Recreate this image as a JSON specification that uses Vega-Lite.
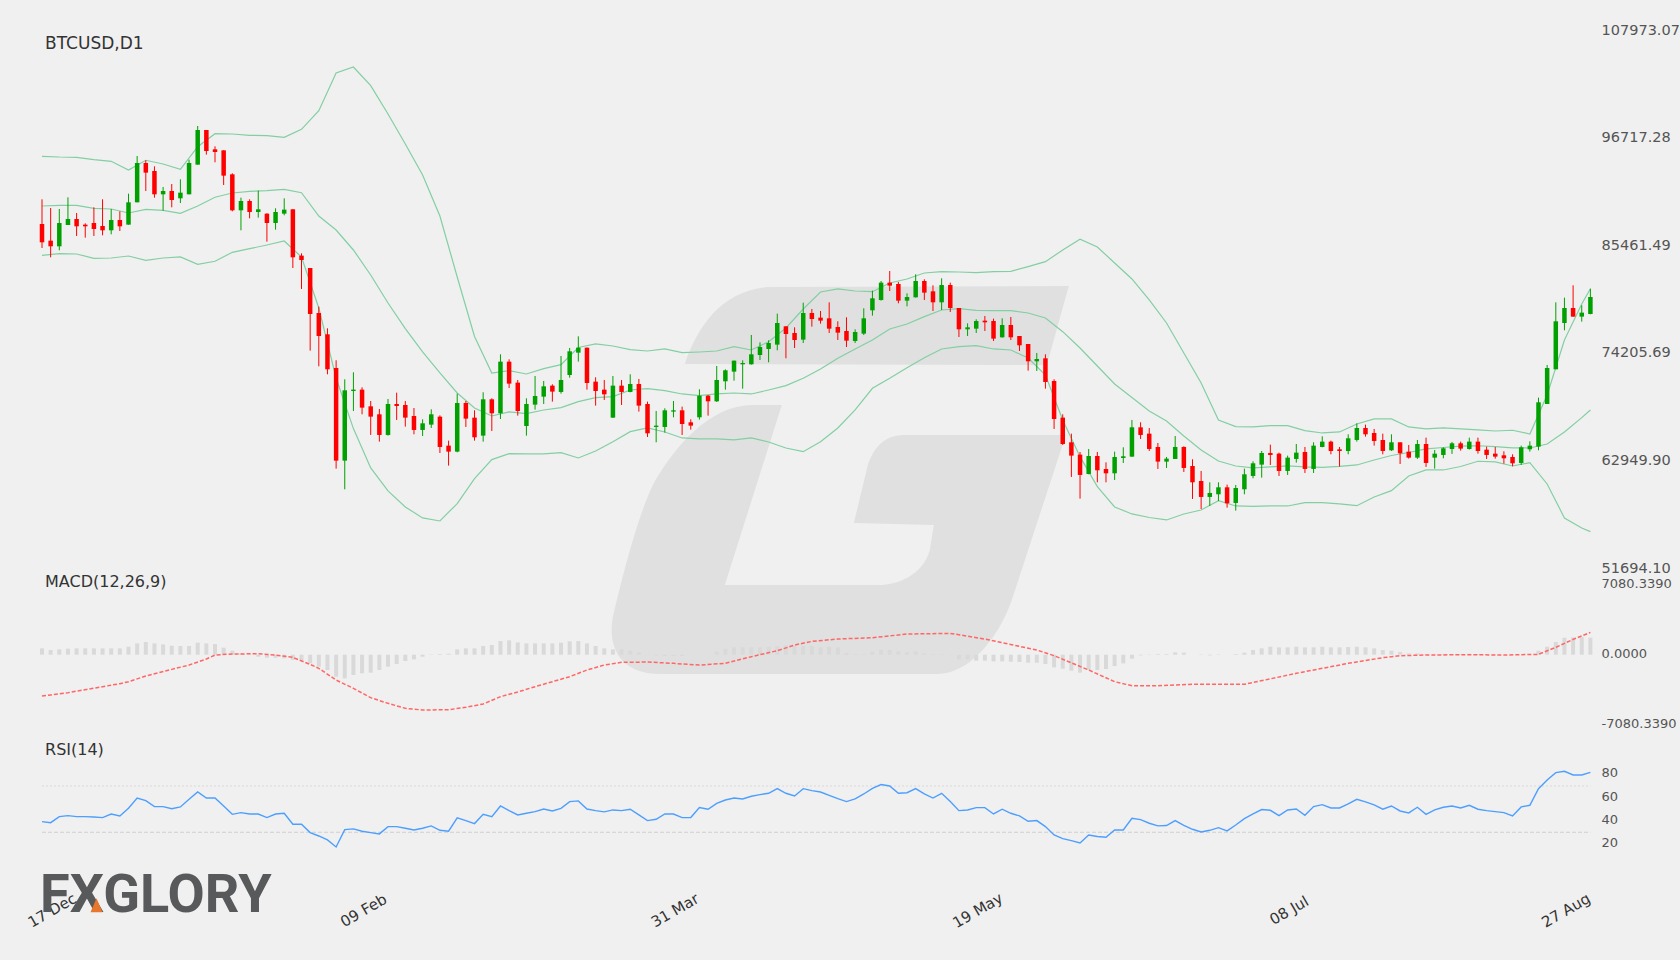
{
  "$schema": "https://vega.github.io/schema/vega-lite/v6.json",
  "width": 1680,
  "height": 960,
  "autosize": "none",
  "padding": 0,
  "background": "#f0f0f0",
  "config": {"view": {"stroke": null}, "font": "DejaVu Sans"},
  "datasets": {
    "candles": [
      {"i":0,"o":87680,"h":90261,"l":85170,"c":85763,"hist":640,"rsi":39.2},
      {"i":1,"o":85937,"h":89354,"l":84194,"c":85344,"hist":472,"rsi":38.3},
      {"i":2,"o":85344,"h":89250,"l":84926,"c":87785,"hist":539,"rsi":43.5},
      {"i":3,"o":87576,"h":90470,"l":87576,"c":88204,"hist":607,"rsi":44.4},
      {"i":4,"o":88204,"h":88831,"l":86425,"c":87436,"hist":640,"rsi":43.5},
      {"i":5,"o":87611,"h":87750,"l":86251,"c":87436,"hist":640,"rsi":43.5},
      {"i":6,"o":87785,"h":89424,"l":86425,"c":87157,"hist":640,"rsi":43.2},
      {"i":7,"o":87471,"h":90261,"l":86495,"c":87018,"hist":640,"rsi":42.7},
      {"i":8,"o":87018,"h":89250,"l":86600,"c":88099,"hist":640,"rsi":45.8},
      {"i":9,"o":88099,"h":89005,"l":86948,"c":87436,"hist":640,"rsi":44.1},
      {"i":10,"o":87611,"h":90853,"l":87611,"c":89947,"hist":809,"rsi":50.7},
      {"i":11,"o":89947,"h":94793,"l":89947,"c":94061,"hist":1146,"rsi":59.6},
      {"i":12,"o":94061,"h":94340,"l":91132,"c":93050,"hist":1281,"rsi":57.3},
      {"i":13,"o":93224,"h":93712,"l":90435,"c":90784,"hist":1146,"rsi":52.2},
      {"i":14,"o":90784,"h":91551,"l":89075,"c":91132,"hist":1045,"rsi":52.2},
      {"i":15,"o":91132,"h":91865,"l":89424,"c":90191,"hist":910,"rsi":50.4},
      {"i":16,"o":90365,"h":92353,"l":89877,"c":90958,"hist":876,"rsi":51.9},
      {"i":17,"o":90784,"h":94410,"l":90784,"c":94061,"hist":876,"rsi":58.5},
      {"i":18,"o":93887,"h":97931,"l":93887,"c":97513,"hist":1213,"rsi":64.8},
      {"i":19,"o":97513,"h":97513,"l":94933,"c":95316,"hist":1146,"rsi":59.6},
      {"i":20,"o":95491,"h":95805,"l":94131,"c":95212,"hist":1078,"rsi":59.6},
      {"i":21,"o":95386,"h":95386,"l":91760,"c":92736,"hist":708,"rsi":52.7},
      {"i":22,"o":92876,"h":92980,"l":89005,"c":89110,"hist":404,"rsi":45.5},
      {"i":23,"o":89110,"h":90435,"l":87018,"c":90086,"hist":135,"rsi":47},
      {"i":24,"o":90086,"h":90261,"l":88273,"c":88936,"hist":-34,"rsi":45.8},
      {"i":25,"o":88936,"h":91167,"l":88343,"c":89215,"hist":-202,"rsi":45.8},
      {"i":26,"o":88761,"h":88796,"l":85833,"c":87785,"hist":-303,"rsi":42.7},
      {"i":27,"o":87785,"h":89319,"l":87088,"c":88936,"hist":-303,"rsi":45.8},
      {"i":28,"o":88761,"h":90365,"l":88587,"c":89180,"hist":-371,"rsi":46.4},
      {"i":29,"o":89215,"h":89250,"l":83078,"c":84194,"hist":-539,"rsi":36.9},
      {"i":30,"o":84368,"h":84612,"l":80881,"c":83915,"hist":-640,"rsi":36.9},
      {"i":31,"o":83078,"h":83078,"l":74431,"c":78267,"hist":-876,"rsi":29.7},
      {"i":32,"o":78371,"h":79034,"l":72792,"c":75965,"hist":-1213,"rsi":26.8},
      {"i":33,"o":76140,"h":76767,"l":71956,"c":72479,"hist":-1550,"rsi":23.4},
      {"i":34,"o":72618,"h":73420,"l":62088,"c":62925,"hist":-2224,"rsi":17.3},
      {"i":35,"o":62925,"h":71433,"l":59926,"c":70282,"hist":-2393,"rsi":32.3},
      {"i":36,"o":70212,"h":72165,"l":68120,"c":70352,"hist":-2056,"rsi":32.9},
      {"i":37,"o":70352,"h":70596,"l":67772,"c":68469,"hist":-1887,"rsi":30.9},
      {"i":38,"o":68608,"h":69166,"l":65610,"c":67527,"hist":-1820,"rsi":29.7},
      {"i":39,"o":67772,"h":68329,"l":64912,"c":65610,"hist":-1550,"rsi":28.6},
      {"i":40,"o":65610,"h":69375,"l":65540,"c":68853,"hist":-1213,"rsi":34.9},
      {"i":41,"o":68853,"h":70038,"l":67179,"c":68643,"hist":-944,"rsi":34.9},
      {"i":42,"o":68748,"h":69166,"l":66481,"c":67423,"hist":-640,"rsi":33.5},
      {"i":43,"o":67597,"h":68434,"l":65680,"c":66133,"hist":-472,"rsi":32},
      {"i":44,"o":66133,"h":67249,"l":65505,"c":66830,"hist":-202,"rsi":33.5},
      {"i":45,"o":66691,"h":68295,"l":66342,"c":67772,"hist":34,"rsi":35.5},
      {"i":46,"o":67527,"h":67667,"l":63727,"c":64355,"hist":67,"rsi":31.7},
      {"i":47,"o":64494,"h":65017,"l":62402,"c":63866,"hist":101,"rsi":30.9},
      {"i":48,"o":63866,"h":69933,"l":63797,"c":68957,"hist":539,"rsi":42.4},
      {"i":49,"o":68957,"h":69166,"l":66447,"c":67318,"hist":640,"rsi":40.1},
      {"i":50,"o":67423,"h":68190,"l":65017,"c":65366,"hist":640,"rsi":37.5},
      {"i":51,"o":65540,"h":70073,"l":64912,"c":69341,"hist":876,"rsi":45.5},
      {"i":52,"o":69341,"h":69445,"l":66028,"c":67876,"hist":977,"rsi":43.5},
      {"i":53,"o":67876,"h":74048,"l":67283,"c":73281,"hist":1382,"rsi":52.7},
      {"i":54,"o":73281,"h":73525,"l":70526,"c":70979,"hist":1449,"rsi":48.7},
      {"i":55,"o":71084,"h":71363,"l":67632,"c":68120,"hist":1247,"rsi":45},
      {"i":56,"o":66551,"h":69445,"l":65540,"c":68853,"hist":1146,"rsi":46.4},
      {"i":57,"o":68783,"h":71781,"l":68260,"c":69689,"hist":1146,"rsi":47.8},
      {"i":58,"o":69619,"h":71258,"l":68853,"c":70700,"hist":1146,"rsi":50.1},
      {"i":59,"o":70770,"h":70910,"l":69096,"c":70143,"hist":1146,"rsi":48.4},
      {"i":60,"o":70108,"h":73873,"l":69933,"c":71363,"hist":1213,"rsi":50.7},
      {"i":61,"o":71886,"h":74710,"l":71607,"c":74361,"hist":1348,"rsi":56.5},
      {"i":62,"o":74222,"h":75930,"l":73281,"c":74745,"hist":1382,"rsi":57.1},
      {"i":63,"o":74745,"h":74745,"l":70352,"c":71049,"hist":1146,"rsi":50.1},
      {"i":64,"o":71189,"h":71642,"l":68678,"c":70212,"hist":876,"rsi":48.7},
      {"i":65,"o":70352,"h":71363,"l":69271,"c":69864,"hist":640,"rsi":47.6},
      {"i":66,"o":67423,"h":71781,"l":67388,"c":70770,"hist":539,"rsi":49.3},
      {"i":67,"o":70770,"h":71363,"l":68748,"c":70108,"hist":539,"rsi":48.7},
      {"i":68,"o":70108,"h":71956,"l":70073,"c":70945,"hist":404,"rsi":49.9},
      {"i":69,"o":70945,"h":71468,"l":68051,"c":68678,"hist":236,"rsi":45},
      {"i":70,"o":68852,"h":69097,"l":65401,"c":65784,"hist":-34,"rsi":40.1},
      {"i":71,"o":66447,"h":68120,"l":64843,"c":66586,"hist":-67,"rsi":41.2},
      {"i":72,"o":66447,"h":68399,"l":65854,"c":68190,"hist":-135,"rsi":45.8},
      {"i":73,"o":68051,"h":69166,"l":67458,"c":68190,"hist":-135,"rsi":45.8},
      {"i":74,"o":68190,"h":68574,"l":65610,"c":66760,"hist":-135,"rsi":42.7},
      {"i":75,"o":66935,"h":67249,"l":66168,"c":66586,"hist":-34,"rsi":42.7},
      {"i":76,"o":67458,"h":70387,"l":67214,"c":69724,"hist":-34,"rsi":51.3},
      {"i":77,"o":69724,"h":69794,"l":67632,"c":69131,"hist":0,"rsi":49.9},
      {"i":78,"o":69131,"h":72827,"l":69062,"c":71363,"hist":303,"rsi":55},
      {"i":79,"o":71223,"h":72479,"l":70352,"c":72374,"hist":607,"rsi":57.9},
      {"i":80,"o":72235,"h":73385,"l":71293,"c":73385,"hist":741,"rsi":59.6},
      {"i":81,"o":73002,"h":73420,"l":70456,"c":73141,"hist":741,"rsi":58.8},
      {"i":82,"o":73002,"h":76070,"l":72967,"c":74048,"hist":741,"rsi":61.1},
      {"i":83,"o":73978,"h":75303,"l":73455,"c":74815,"hist":741,"rsi":62.5},
      {"i":84,"o":74606,"h":75512,"l":73211,"c":75233,"hist":809,"rsi":63.7},
      {"i":85,"o":75059,"h":78301,"l":74466,"c":77325,"hist":876,"rsi":67.7},
      {"i":86,"o":76977,"h":76977,"l":73629,"c":76175,"hist":977,"rsi":63.7},
      {"i":87,"o":76279,"h":76872,"l":74710,"c":75547,"hist":876,"rsi":61.4},
      {"i":88,"o":75582,"h":79452,"l":75233,"c":78371,"hist":876,"rsi":67.7},
      {"i":89,"o":78371,"h":78790,"l":76942,"c":77744,"hist":876,"rsi":66},
      {"i":90,"o":77883,"h":78580,"l":77255,"c":77569,"hist":741,"rsi":64.8},
      {"i":91,"o":77813,"h":79487,"l":76279,"c":76732,"hist":809,"rsi":61.9},
      {"i":92,"o":76907,"h":77499,"l":75547,"c":76314,"hist":741,"rsi":59.1},
      {"i":93,"o":76488,"h":77918,"l":74815,"c":75477,"hist":169,"rsi":56.5},
      {"i":94,"o":75442,"h":76663,"l":75233,"c":76384,"hist":67,"rsi":58.8},
      {"i":95,"o":76209,"h":78859,"l":76070,"c":77813,"hist":67,"rsi":63.1},
      {"i":96,"o":78650,"h":80707,"l":78092,"c":79905,"hist":303,"rsi":68},
      {"i":97,"o":79731,"h":81718,"l":79661,"c":81544,"hist":472,"rsi":71.2},
      {"i":98,"o":81544,"h":82764,"l":80672,"c":81230,"hist":472,"rsi":70},
      {"i":99,"o":81405,"h":81614,"l":79382,"c":79661,"hist":337,"rsi":63.7},
      {"i":100,"o":79661,"h":80428,"l":79068,"c":80045,"hist":236,"rsi":64.2},
      {"i":101,"o":80010,"h":82416,"l":79975,"c":81718,"hist":337,"rsi":67.7},
      {"i":102,"o":81718,"h":81893,"l":79731,"c":80498,"hist":135,"rsi":63.1},
      {"i":103,"o":80637,"h":81265,"l":78580,"c":79487,"hist":67,"rsi":59.6},
      {"i":104,"o":79487,"h":81997,"l":78685,"c":81300,"hist":67,"rsi":63.7},
      {"i":105,"o":81300,"h":81544,"l":78476,"c":78894,"hist":-34,"rsi":56.5},
      {"i":106,"o":78894,"h":78894,"l":75861,"c":76663,"hist":-472,"rsi":48.7},
      {"i":107,"o":76663,"h":77290,"l":75965,"c":76872,"hist":-472,"rsi":49.3},
      {"i":108,"o":76732,"h":77709,"l":76279,"c":77534,"hist":-607,"rsi":51.3},
      {"i":109,"o":77569,"h":78057,"l":76488,"c":77395,"hist":-607,"rsi":51.3},
      {"i":110,"o":77534,"h":77778,"l":75442,"c":75686,"hist":-674,"rsi":45.8},
      {"i":111,"o":75826,"h":77813,"l":75791,"c":77116,"hist":-674,"rsi":49.9},
      {"i":112,"o":77116,"h":77953,"l":75547,"c":75826,"hist":-708,"rsi":46.4},
      {"i":113,"o":75965,"h":75965,"l":74396,"c":74989,"hist":-741,"rsi":44.1},
      {"i":114,"o":75129,"h":75129,"l":72339,"c":73315,"hist":-809,"rsi":39.5},
      {"i":115,"o":73315,"h":74187,"l":72304,"c":73560,"hist":-809,"rsi":40.1},
      {"i":116,"o":73629,"h":74048,"l":70456,"c":71154,"hist":-944,"rsi":34.9},
      {"i":117,"o":71258,"h":71433,"l":66237,"c":67283,"hist":-1281,"rsi":27.7},
      {"i":118,"o":67423,"h":67772,"l":64564,"c":64668,"hist":-1415,"rsi":24.5},
      {"i":119,"o":64843,"h":65749,"l":61217,"c":63448,"hist":-1618,"rsi":22.8},
      {"i":120,"o":63553,"h":63832,"l":58950,"c":61426,"hist":-1820,"rsi":20.8},
      {"i":121,"o":61530,"h":64145,"l":61495,"c":63413,"hist":-1550,"rsi":27.7},
      {"i":122,"o":63413,"h":63832,"l":60659,"c":61914,"hist":-1550,"rsi":26.3},
      {"i":123,"o":62053,"h":62751,"l":60659,"c":61600,"hist":-1449,"rsi":25.7},
      {"i":124,"o":61600,"h":63867,"l":60903,"c":63309,"hist":-1146,"rsi":32},
      {"i":125,"o":63204,"h":64320,"l":62681,"c":63378,"hist":-876,"rsi":32},
      {"i":126,"o":63344,"h":67179,"l":63309,"c":66412,"hist":-404,"rsi":42.1},
      {"i":127,"o":66412,"h":66935,"l":65192,"c":65610,"hist":-67,"rsi":40.9},
      {"i":128,"o":65749,"h":66342,"l":63936,"c":64146,"hist":-34,"rsi":37.8},
      {"i":129,"o":64355,"h":64773,"l":62054,"c":62821,"hist":67,"rsi":35.5},
      {"i":130,"o":62821,"h":63309,"l":62158,"c":63134,"hist":67,"rsi":35.8},
      {"i":131,"o":63100,"h":65505,"l":63100,"c":64355,"hist":236,"rsi":40.1},
      {"i":132,"o":64355,"h":64424,"l":61740,"c":62158,"hist":202,"rsi":36},
      {"i":133,"o":62367,"h":63065,"l":58916,"c":60659,"hist":0,"rsi":32.6},
      {"i":134,"o":60798,"h":61844,"l":57869,"c":59125,"hist":-34,"rsi":30.3},
      {"i":135,"o":59125,"h":60659,"l":58183,"c":59543,"hist":-67,"rsi":31.7},
      {"i":136,"o":59404,"h":60659,"l":58706,"c":60136,"hist":-34,"rsi":34},
      {"i":137,"o":60136,"h":60415,"l":58009,"c":58462,"hist":0,"rsi":31.2},
      {"i":138,"o":58497,"h":60380,"l":57695,"c":60066,"hist":67,"rsi":36.3},
      {"i":139,"o":59927,"h":62088,"l":59404,"c":61496,"hist":202,"rsi":41.8},
      {"i":140,"o":61321,"h":62856,"l":61077,"c":62646,"hist":472,"rsi":45.8},
      {"i":141,"o":62507,"h":63936,"l":61147,"c":63727,"hist":640,"rsi":49.6},
      {"i":142,"o":63727,"h":64599,"l":62472,"c":63518,"hist":809,"rsi":49},
      {"i":143,"o":63657,"h":63762,"l":61321,"c":61844,"hist":741,"rsi":44.4},
      {"i":144,"o":61844,"h":63448,"l":61426,"c":63239,"hist":741,"rsi":49.3},
      {"i":145,"o":63100,"h":64669,"l":62716,"c":63762,"hist":809,"rsi":50.1},
      {"i":146,"o":63832,"h":64355,"l":61635,"c":62054,"hist":741,"rsi":44.7},
      {"i":147,"o":62054,"h":64843,"l":61635,"c":64494,"hist":741,"rsi":52.2},
      {"i":148,"o":64355,"h":65471,"l":64320,"c":64913,"hist":809,"rsi":53.9},
      {"i":149,"o":64913,"h":65017,"l":63588,"c":63936,"hist":741,"rsi":51},
      {"i":150,"o":64111,"h":64355,"l":62298,"c":63936,"hist":741,"rsi":51},
      {"i":151,"o":63936,"h":65680,"l":63588,"c":65261,"hist":775,"rsi":54.5},
      {"i":152,"o":65087,"h":66830,"l":64913,"c":66342,"hist":809,"rsi":58.5},
      {"i":153,"o":66342,"h":66691,"l":65436,"c":65680,"hist":741,"rsi":56.2},
      {"i":154,"o":65819,"h":66238,"l":64494,"c":64982,"hist":640,"rsi":53.6},
      {"i":155,"o":65087,"h":65749,"l":63588,"c":63936,"hist":472,"rsi":49.9},
      {"i":156,"o":64006,"h":65680,"l":63936,"c":64843,"hist":404,"rsi":52.7},
      {"i":157,"o":64843,"h":64843,"l":62576,"c":63692,"hist":270,"rsi":48.4},
      {"i":158,"o":63866,"h":64564,"l":63134,"c":63239,"hist":135,"rsi":46.7},
      {"i":159,"o":63239,"h":65087,"l":63099,"c":64668,"hist":135,"rsi":51.6},
      {"i":160,"o":64668,"h":65331,"l":62263,"c":62681,"hist":67,"rsi":45.5},
      {"i":161,"o":63239,"h":64041,"l":62088,"c":63657,"hist":34,"rsi":49.3},
      {"i":162,"o":63518,"h":64320,"l":63169,"c":64215,"hist":67,"rsi":51.6},
      {"i":163,"o":64145,"h":64878,"l":63623,"c":64738,"hist":67,"rsi":52.7},
      {"i":164,"o":64738,"h":64913,"l":63971,"c":64180,"hist":67,"rsi":51},
      {"i":165,"o":64145,"h":65331,"l":64076,"c":64913,"hist":101,"rsi":53.3},
      {"i":166,"o":64913,"h":65331,"l":63657,"c":63936,"hist":67,"rsi":49.9},
      {"i":167,"o":64076,"h":64389,"l":63099,"c":63518,"hist":34,"rsi":48.7},
      {"i":168,"o":63657,"h":64355,"l":63134,"c":63343,"hist":34,"rsi":47.8},
      {"i":169,"o":63483,"h":63901,"l":62611,"c":63169,"hist":0,"rsi":47},
      {"i":170,"o":63309,"h":63588,"l":62332,"c":62646,"hist":0,"rsi":44.1},
      {"i":171,"o":62681,"h":64494,"l":62472,"c":64320,"hist":0,"rsi":51.9},
      {"i":172,"o":64111,"h":64947,"l":63866,"c":64494,"hist":0,"rsi":53.3},
      {"i":173,"o":64389,"h":69515,"l":64006,"c":69027,"hist":404,"rsi":67.7},
      {"i":174,"o":68852,"h":72932,"l":68852,"c":72618,"hist":809,"rsi":75.2},
      {"i":175,"o":72479,"h":79487,"l":72479,"c":77500,"hist":1281,"rsi":81.5},
      {"i":176,"o":77325,"h":79975,"l":76558,"c":78894,"hist":1719,"rsi":82.7},
      {"i":177,"o":78894,"h":81265,"l":77988,"c":77988,"hist":1752,"rsi":79.5},
      {"i":178,"o":77988,"h":79173,"l":77465,"c":78406,"hist":1786,"rsi":79.5},
      {"i":179,"o":78267,"h":80916,"l":78232,"c":80045,"hist":1719,"rsi":81.8}
    ],
    "bands": [
      {"i":0,"upper":94762,"mid":89563,"lower":84407},{"i":2,"upper":94689,"mid":89637,"lower":84574},
      {"i":4,"upper":94657,"mid":89637,"lower":84543},{"i":6,"upper":94406,"mid":89323,"lower":84093},
      {"i":8,"upper":94239,"mid":89250,"lower":84124},{"i":10,"upper":93329,"mid":88831,"lower":84333},
      {"i":12,"upper":94344,"mid":89218,"lower":83884},{"i":14,"upper":93957,"mid":89114,"lower":84124},
      {"i":16,"upper":93402,"mid":88800,"lower":84229},{"i":18,"upper":95766,"mid":89563,"lower":83465},
      {"i":20,"upper":97126,"mid":90473,"lower":83779},{"i":22,"upper":97095,"mid":90923,"lower":84720},
      {"i":24,"upper":96959,"mid":91101,"lower":85097},{"i":26,"upper":96917,"mid":91164,"lower":85484},
      {"i":28,"upper":96749,"mid":91310,"lower":85902},{"i":30,"upper":97586,"mid":90955,"lower":84229},
      {"i":32,"upper":99532,"mid":88517,"lower":78894},{"i":34,"upper":103486,"mid":87053,"lower":71572},
      {"i":36,"upper":104103,"mid":84961,"lower":66279},{"i":38,"upper":102147,"mid":82346,"lower":62158},
      {"i":40,"upper":99187,"mid":79417,"lower":59752},{"i":42,"upper":96049,"mid":76739,"lower":58079},
      {"i":44,"upper":92806,"mid":74292,"lower":56928},{"i":46,"upper":88517,"mid":72095,"lower":56614},
      {"i":48,"upper":82137,"mid":70003,"lower":58434},{"i":50,"upper":75913,"mid":68434,"lower":61049},
      {"i":52,"upper":72095,"mid":67597,"lower":63037},{"i":54,"upper":72336,"mid":68016,"lower":63664},
      {"i":56,"upper":71991,"mid":67838,"lower":63623},{"i":58,"upper":72545,"mid":68225,"lower":63623},
      {"i":60,"upper":72963,"mid":68466,"lower":63759},{"i":62,"upper":74762,"mid":69093,"lower":63204},
      {"i":64,"upper":75129,"mid":69512,"lower":63936},{"i":66,"upper":74919,"mid":69616,"lower":64909},
      {"i":68,"upper":74532,"mid":70317,"lower":65955},{"i":70,"upper":74396,"mid":70453,"lower":66342},
      {"i":72,"upper":74606,"mid":70244,"lower":65924},{"i":74,"upper":74219,"mid":69899,"lower":65296},
      {"i":76,"upper":74292,"mid":69721,"lower":65192},{"i":78,"upper":74396,"mid":69899,"lower":65192},
      {"i":80,"upper":74846,"mid":70003,"lower":65087},{"i":82,"upper":74501,"mid":69899,"lower":65296},
      {"i":84,"upper":75369,"mid":70317,"lower":64878},{"i":86,"upper":76802,"mid":70767,"lower":64250},
      {"i":88,"upper":78790,"mid":71541,"lower":63863},{"i":90,"upper":80568,"mid":72514,"lower":64909},
      {"i":92,"upper":80882,"mid":73633,"lower":66342},{"i":94,"upper":80672,"mid":74606,"lower":68225},
      {"i":96,"upper":80599,"mid":75547,"lower":70495},{"i":98,"upper":81509,"mid":76698,"lower":71541},
      {"i":100,"upper":81928,"mid":77221,"lower":72650},{"i":102,"upper":82555,"mid":77984,"lower":73696},
      {"i":104,"upper":82691,"mid":78685,"lower":74606},{"i":106,"upper":82660,"mid":78821,"lower":74846},
      {"i":108,"upper":82587,"mid":78654,"lower":74951},{"i":110,"upper":82691,"mid":78612,"lower":74606},
      {"i":112,"upper":82733,"mid":78612,"lower":74501},{"i":114,"upper":83214,"mid":78371,"lower":73664},
      {"i":116,"upper":83737,"mid":77848,"lower":71886},{"i":118,"upper":84961,"mid":76415,"lower":67179},
      {"i":120,"upper":86080,"mid":74710,"lower":63340},{"i":122,"upper":85275,"mid":72827,"lower":60202},
      {"i":124,"upper":83601,"mid":70945,"lower":58079},{"i":126,"upper":81928,"mid":69532,"lower":57347},
      {"i":128,"upper":79731,"mid":68120,"lower":56980},{"i":130,"upper":77325,"mid":67074,"lower":56719},
      {"i":132,"upper":74187,"mid":65505,"lower":57347},{"i":134,"upper":71049,"mid":64041,"lower":57765},
      {"i":136,"upper":67179,"mid":62890,"lower":58738},{"i":138,"upper":66478,"mid":62367,"lower":58183},
      {"i":140,"upper":66447,"mid":62158,"lower":58131},{"i":142,"upper":66583,"mid":62263,"lower":58183},
      {"i":144,"upper":66583,"mid":62367,"lower":58183},{"i":146,"upper":66060,"mid":62263,"lower":58529},
      {"i":148,"upper":65819,"mid":62210,"lower":58529},{"i":150,"upper":65924,"mid":62315,"lower":58393},
      {"i":152,"upper":66761,"mid":62472,"lower":58215},{"i":154,"upper":67284,"mid":62995,"lower":59125},
      {"i":156,"upper":67284,"mid":63466,"lower":59784},{"i":158,"upper":66447,"mid":63779,"lower":61321},
      {"i":160,"upper":66238,"mid":64146,"lower":61949},{"i":162,"upper":66342,"mid":64302,"lower":61949},
      {"i":164,"upper":66238,"mid":64438,"lower":62315},{"i":166,"upper":66133,"mid":64480,"lower":62859},
      {"i":168,"upper":66028,"mid":64386,"lower":62786},{"i":170,"upper":66102,"mid":64250,"lower":62367},
      {"i":172,"upper":65715,"mid":64250,"lower":62713},{"i":174,"upper":69794,"mid":64669,"lower":60485},
      {"i":176,"upper":75547,"mid":65924,"lower":56928},{"i":178,"upper":79313,"mid":67420,"lower":55882},
      {"i":179,"upper":80913,"mid":68225,"lower":55495}
    ],
    "macd": [
      {"i":0,"macd":-4179},{"i":1,"macd":-4078},{"i":3,"macd":-3842},{"i":5,"macd":-3539},{"i":7,"macd":-3235},
      {"i":9,"macd":-2932},{"i":10,"macd":-2730},{"i":12,"macd":-2157},{"i":15,"macd":-1483},{"i":17,"macd":-1045},
      {"i":19,"macd":-438},{"i":20,"macd":-34},{"i":22,"macd":67},{"i":25,"macd":101},{"i":27,"macd":-34},
      {"i":29,"macd":-270},{"i":31,"macd":-977},{"i":32,"macd":-1382},{"i":34,"macd":-2561},{"i":36,"macd":-3404},
      {"i":38,"macd":-4347},{"i":40,"macd":-4920},{"i":42,"macd":-5426},{"i":44,"macd":-5594},{"i":47,"macd":-5561},
      {"i":49,"macd":-5325},{"i":51,"macd":-4988},{"i":53,"macd":-4246},{"i":55,"macd":-3774},{"i":57,"macd":-3235},
      {"i":59,"macd":-2730},{"i":61,"macd":-2224},{"i":63,"macd":-1550},{"i":65,"macd":-1045},{"i":67,"macd":-775},
      {"i":70,"macd":-741},{"i":73,"macd":-876},{"i":76,"macd":-1045},{"i":79,"macd":-876},{"i":82,"macd":-202},
      {"i":85,"macd":404},{"i":87,"macd":977},{"i":89,"macd":1348},{"i":92,"macd":1584},{"i":96,"macd":1719},
      {"i":100,"macd":2089},{"i":105,"macd":2157},{"i":109,"macd":1584},{"i":115,"macd":472},{"i":117,"macd":-101},
      {"i":121,"macd":-1550},{"i":124,"macd":-2730},{"i":126,"macd":-3134},{"i":129,"macd":-3134},{"i":133,"macd":-2999},
      {"i":139,"macd":-2999},{"i":145,"macd":-1887},{"i":151,"macd":-876},{"i":155,"macd":-303},{"i":157,"macd":-101},
      {"i":160,"macd":-34},{"i":165,"macd":0},{"i":169,"macd":-34},{"i":173,"macd":34},{"i":175,"macd":741},
      {"i":177,"macd":1550},{"i":179,"macd":2258}
    ]
  },
  "encoding": {
    "x": {
      "field": "i",
      "type": "quantitative",
      "scale": {"domain": [0, 179], "range": [42, 1590.4], "nice": false, "zero": false, "padding": 0},
      "axis": {
        "values": [1, 37, 73, 108, 144, 176],
        "labelExpr": "{'1':'17 Dec','37':'09 Feb','73':'31 Mar','108':'19 May','144':'08 Jul','176':'27 Aug'}[datum.value]",
        "title": null,
        "orient": "bottom",
        "offset": -50,
        "domain": false,
        "ticks": false,
        "grid": false,
        "labelAngle": -30,
        "labelAlign": "center",
        "labelBaseline": "middle",
        "labelOffset": 1,
        "labelPadding": 0,
        "labelFont": "DejaVu Sans",
        "labelFontSize": 15,
        "labelColor": "#333333",
        "labelOverlap": false,
        "labelBound": false,
        "labelFlush": false
      }
    }
  },
  "layer": [
    {
      "data": {"values": [{"i": 92, "price": 54620}]},
      "mark": {
        "type": "point",
        "shape": "M-153,-176 C-140,-215 -115,-250 -69,-253 L231,-254 L209,-175 Z M-56,-135 L-85,-135 C-130,-135 -165,-90 -184,-57 C-200,-25 -215,35 -225,77 C-230,105 -220,134 -178,134 L100,134 C130,134 160,100 174,60 L228,-105 L66,-105 C45,-105 35,-90 30,-75 L16,-17 L96,-15 L92,10 C85,35 60,45 41,45 L-113,45 Z",
        "filled": true,
        "size": 4,
        "color": "#e0e0e0",
        "opacity": 1
      },
      "encoding": {
        "y": {
          "field": "price",
          "type": "quantitative",
          "scale": {"domain": [51694.1, 107973.07], "range": [568, 30], "nice": false, "zero": false},
          "axis": {
            "orient": "right",
            "offset": -79,
            "values": [51694.1, 62949.9, 74205.69, 85461.49, 96717.28, 107973.07],
            "format": ".2f",
            "title": null,
            "domain": false,
            "ticks": false,
            "grid": false,
            "labelPadding": 0,
            "labelFont": "DejaVu Sans",
            "labelFontSize": 14.5,
            "labelColor": "#555555",
            "labelOverlap": false,
            "labelBound": false,
            "labelFlush": false
          }
        }
      }
    },
    {
      "data": {"name": "bands"},
      "transform": [{"fold": ["upper", "mid", "lower"], "as": ["band", "price"]}],
      "mark": {"type": "line", "color": "#82cfa2", "strokeWidth": 1.2},
      "encoding": {
        "detail": {"field": "band"},
        "y": {
          "field": "price",
          "type": "quantitative",
          "axis": null,
          "scale": {"domain": [51694.1, 107973.07], "range": [568, 30], "nice": false, "zero": false}
        }
      }
    },
    {
      "data": {"name": "candles"},
      "mark": {"type": "rule", "strokeWidth": 1},
      "encoding": {
        "y": {
          "field": "l",
          "type": "quantitative",
          "axis": null,
          "scale": {"domain": [51694.1, 107973.07], "range": [568, 30], "nice": false, "zero": false}
        },
        "y2": {"field": "h"},
        "color": {"condition": {"test": "datum.c >= datum.o", "value": "#00a000"}, "value": "#ff0000"}
      }
    },
    {
      "data": {"name": "candles"},
      "mark": {"type": "bar", "size": 4.5, "orient": "vertical"},
      "encoding": {
        "y": {
          "field": "o",
          "type": "quantitative",
          "axis": null,
          "scale": {"domain": [51694.1, 107973.07], "range": [568, 30], "nice": false, "zero": false}
        },
        "y2": {"field": "c"},
        "color": {"condition": {"test": "datum.c >= datum.o", "value": "#00a000"}, "value": "#ff0000"}
      }
    },
    {
      "data": {"values": [{"i": 0.35, "price": 106560, "label": "BTCUSD,D1"}]},
      "mark": {"type": "text", "align": "left", "baseline": "middle", "font": "DejaVu Sans", "fontSize": 17, "color": "#333333"},
      "encoding": {
        "text": {"field": "label"},
        "y": {
          "field": "price",
          "type": "quantitative",
          "axis": null,
          "scale": {"domain": [51694.1, 107973.07], "range": [568, 30], "nice": false, "zero": false}
        }
      }
    },
    {
      "data": {"name": "candles"},
      "mark": {"type": "bar", "size": 4, "color": "#d9d9d9"},
      "encoding": {
        "y": {
          "field": "hist",
          "type": "quantitative",
          "scale": {"domain": [-7080.339, 7080.339], "range": [724.7, 584.7], "nice": false},
          "axis": {
            "orient": "right",
            "offset": -79,
            "values": [-7080.339, 0, 7080.339],
            "labelExpr": "datum.value < 0 ? '-7080.3390' : datum.label",
            "format": ".4f",
            "title": null,
            "domain": false,
            "ticks": false,
            "grid": false,
            "labelPadding": 0,
            "labelOffset": -1.5,
            "labelFont": "DejaVu Sans",
            "labelFontSize": 13,
            "labelColor": "#555555",
            "labelOverlap": false,
            "labelBound": false,
            "labelFlush": false
          }
        }
      }
    },
    {
      "data": {"name": "macd"},
      "mark": {"type": "line", "color": "#ff6666", "strokeWidth": 1.5, "strokeDash": [4, 2]},
      "encoding": {
        "y": {
          "field": "macd",
          "type": "quantitative",
          "axis": null,
          "scale": {"domain": [-7080.339, 7080.339], "range": [724.7, 584.7], "nice": false}
        }
      }
    },
    {
      "data": {"values": [{"i": 0.35, "macd": 7384, "label": "MACD(12,26,9)"}]},
      "mark": {"type": "text", "align": "left", "baseline": "middle", "font": "DejaVu Sans", "fontSize": 16, "color": "#333333"},
      "encoding": {
        "text": {"field": "label"},
        "y": {
          "field": "macd",
          "type": "quantitative",
          "axis": null,
          "scale": {"domain": [-7080.339, 7080.339], "range": [724.7, 584.7], "nice": false}
        }
      }
    },
    {
      "data": {"values": [{"i": 0, "to": 179, "level": 70}]},
      "mark": {"type": "rule", "color": "#d9d9d9", "strokeWidth": 1, "strokeDash": [2, 2]},
      "encoding": {
        "x2": {"field": "to"},
        "y": {
          "field": "level",
          "type": "quantitative",
          "scale": {"domain": [0, 100], "range": [867, 751.25], "nice": false},
          "axis": {
            "orient": "right",
            "offset": -79,
            "values": [20, 40, 60, 80],
            "format": "d",
            "title": null,
            "domain": false,
            "ticks": false,
            "grid": false,
            "labelPadding": 0,
            "labelOffset": -1.5,
            "labelFont": "DejaVu Sans",
            "labelFontSize": 13,
            "labelColor": "#555555",
            "labelOverlap": false,
            "labelBound": false,
            "labelFlush": false
          }
        }
      }
    },
    {
      "data": {"values": [{"i": 0, "to": 179, "level": 30}]},
      "mark": {"type": "rule", "color": "#cfcfcf", "strokeWidth": 1, "strokeDash": [4, 2]},
      "encoding": {
        "x2": {"field": "to"},
        "y": {
          "field": "level",
          "type": "quantitative",
          "axis": null,
          "scale": {"domain": [0, 100], "range": [867, 751.25], "nice": false}
        }
      }
    },
    {
      "data": {"name": "candles"},
      "mark": {"type": "line", "color": "#4d9fff", "strokeWidth": 1.4},
      "encoding": {
        "y": {
          "field": "rsi",
          "type": "quantitative",
          "axis": null,
          "scale": {"domain": [0, 100], "range": [867, 751.25], "nice": false}
        }
      }
    },
    {
      "data": {"values": [{"i": 0.35, "rsi": 101, "label": "RSI(14)"}]},
      "mark": {"type": "text", "align": "left", "baseline": "middle", "font": "DejaVu Sans", "fontSize": 16, "color": "#333333"},
      "encoding": {
        "text": {"field": "label"},
        "y": {
          "field": "rsi",
          "type": "quantitative",
          "axis": null,
          "scale": {"domain": [0, 100], "range": [867, 751.25], "nice": false}
        }
      }
    },
    {
      "data": {"values": [{"i": -0.23, "rsi": -39, "label": "FXGLORY"}]},
      "mark": {"type": "text", "align": "left", "baseline": "alphabetic", "font": "Roboto", "fontWeight": "bold", "fontSize": 54, "color": "#58595b"},
      "encoding": {
        "text": {"field": "label"},
        "y": {
          "field": "rsi",
          "type": "quantitative",
          "axis": null,
          "scale": {"domain": [0, 100], "range": [867, 751.25], "nice": false}
        }
      }
    },
    {
      "data": {"values": [{"i": 6.3, "rsi": -33}]},
      "mark": {"type": "point", "shape": "M0,-7 L6,7 L-6,7 Z", "filled": true, "size": 4, "color": "#e8762c", "opacity": 1},
      "encoding": {
        "y": {
          "field": "rsi",
          "type": "quantitative",
          "axis": null,
          "scale": {"domain": [0, 100], "range": [867, 751.25], "nice": false}
        }
      }
    }
  ],
  "resolve": {"scale": {"y": "independent"}, "axis": {"y": "independent"}}
}
